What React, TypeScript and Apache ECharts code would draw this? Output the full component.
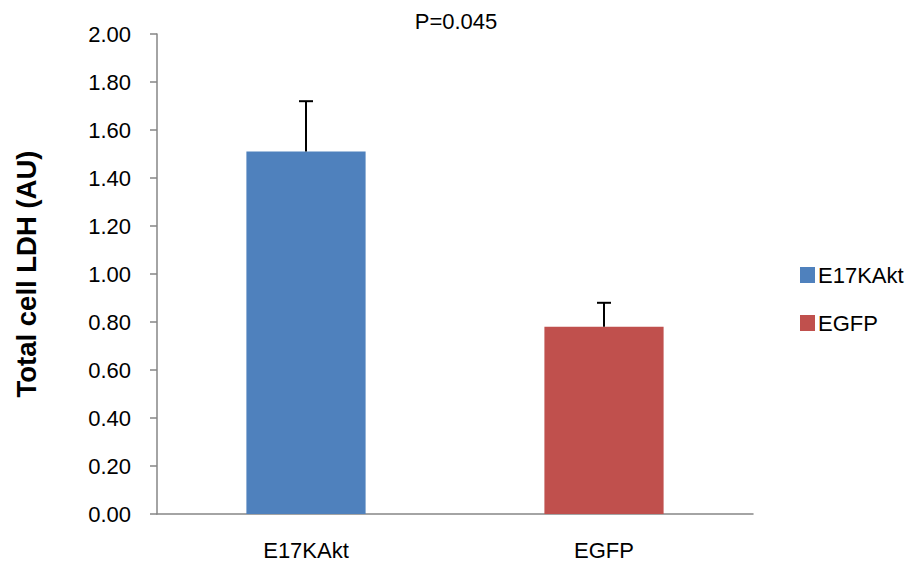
import React, { useEffect, useRef } from "react";
import * as echarts from "echarts";

const categories = ["E17KAkt", "EGFP"];
const seriesNames = ["E17KAkt", "EGFP"];
const means = [1.51, 0.78];
const errors = [0.21, 0.1];
const colors = ["#4F81BD", "#C0504D"];
const yTicks = { min: 0, max: 2, interval: 0.2 };
const titleText = "P=0.045";
const yAxisName = "Total cell LDH (AU)";

const FONT = "'Liberation Sans', Arial, sans-serif";

export default function App() {
  const ref = useRef<HTMLDivElement>(null);
  useEffect(() => {
    if (!ref.current) return;
    const chart = echarts.init(ref.current, undefined, { renderer: "svg" });
    const barSeries = seriesNames.map((name, si) => ({
      name,
      type: "bar",
      stack: "one",
      barWidth: "40%",
      itemStyle: { color: colors[si] },
      data: categories.map((_, ci) => (ci === si ? means[ci] : "-")),
    }));
    const errData = categories.map((_, ci) => [ci, means[ci], means[ci] + errors[ci]]);
    chart.setOption({
      animation: false,
      textStyle: { fontFamily: FONT },
      title: {
        text: titleText,
        left: "center",
        top: 5,
        textStyle: { fontSize: 22, fontWeight: "normal", color: "#000", fontFamily: FONT },
      },
      legend: {
        orient: "vertical",
        left: 795,
        top: 259,
        itemWidth: 15,
        itemHeight: 16,
        itemGap: 26,
        icon: "rect",
        data: seriesNames,
        textStyle: { fontSize: 22, color: "#000", fontFamily: FONT, padding: [0, 0, 0, -2] },
      },
      grid: { left: 157, right: 159, top: 34, bottom: 52, outerBoundsMode: "none" },
      xAxis: {
        type: "category",
        data: categories,
        axisLine: { lineStyle: { color: "#868686", width: 1.5 } },
        axisTick: { length: 8, lineStyle: { color: "#868686", width: 1.5 } },
        axisLabel: { fontSize: 22, color: "#000", margin: 25, fontFamily: FONT },
      },
      yAxis: {
        type: "value",
        min: yTicks.min,
        max: yTicks.max,
        interval: yTicks.interval,
        name: yAxisName,
        nameLocation: "middle",
        nameRotate: 90,
        nameGap: 117,
        nameTextStyle: { fontSize: 27.5, fontWeight: "bold", color: "#000", fontFamily: FONT },
        axisLine: { show: true, lineStyle: { color: "#868686", width: 1.5 } },
        axisTick: { show: true, length: 7, lineStyle: { color: "#868686", width: 1.5 } },
        splitLine: { show: false },
        axisLabel: {
          fontSize: 22,
          color: "#000",
          margin: 26,
          fontFamily: FONT,
          formatter: (v: number) => v.toFixed(2),
        },
      },
      series: [
        ...barSeries,
        {
          type: "custom",
          name: "err",
          data: errData,
          z: 10,
          renderItem: (params: any, api: any) => {
            const x = api.value(0);
            const lo = api.coord([x, api.value(1)]);
            const hi = api.coord([x, api.value(2)]);
            const half = 7;
            const style = { stroke: "#000", lineWidth: 2 };
            return {
              type: "group",
              children: [
                { type: "line", shape: { x1: lo[0], y1: lo[1], x2: hi[0], y2: hi[1] }, style },
                { type: "line", shape: { x1: hi[0] - half, y1: hi[1], x2: hi[0] + half, y2: hi[1] }, style },
              ],
            };
          },
        },
      ],
    });
    return () => chart.dispose();
  }, []);
  return (
    <div
      ref={ref}
      style={{ position: "fixed", left: 0, top: 0, width: 912, height: 566, background: "#fff" }}
    />
  );
}
